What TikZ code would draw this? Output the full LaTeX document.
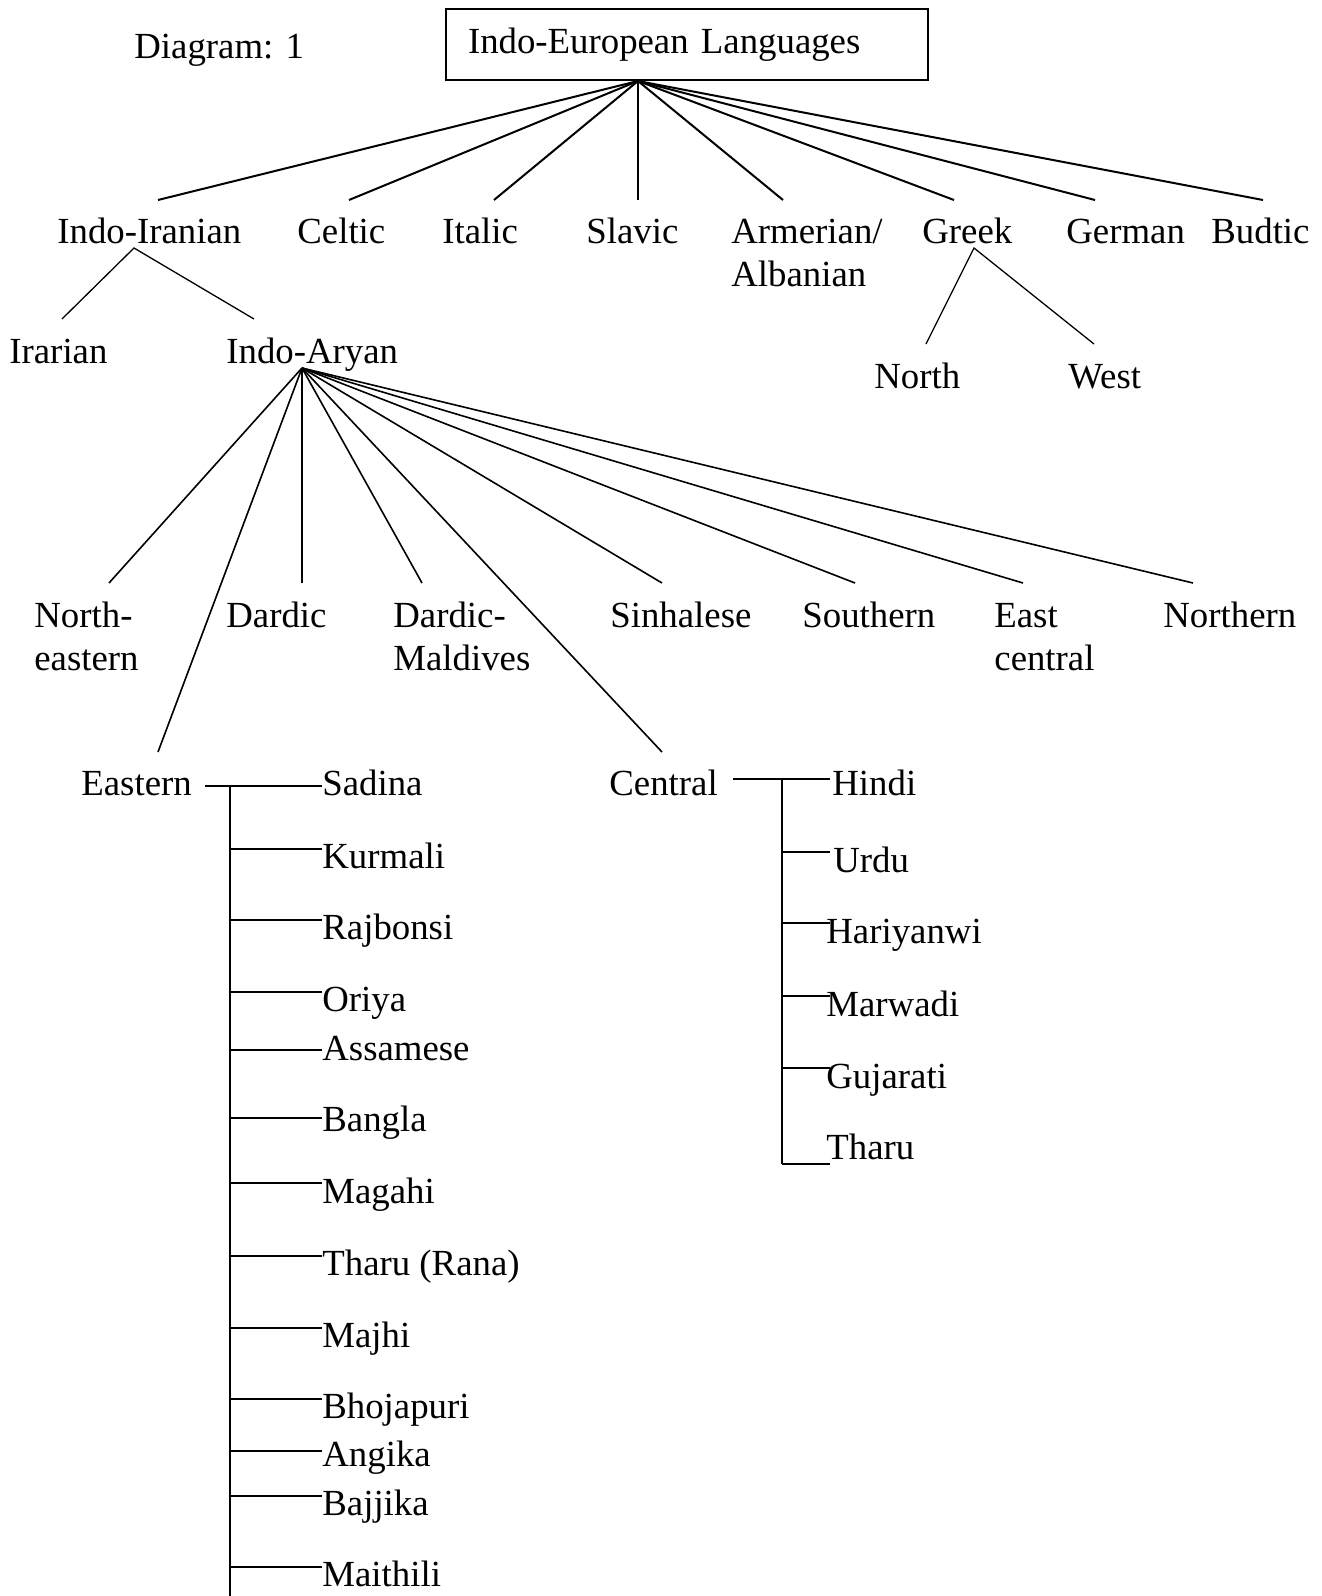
\documentclass[tikz,border=0pt]{standalone}
\usepackage{fontspec}
\setmainfont{Liberation Serif}
\newcommand{\stackpair}[2]{\vtop{\hbox{#1}\hbox{#2}}}
\begin{document}
\begin{tikzpicture}[x=0.5pt,y=-0.5pt,
  lbl/.style={anchor=base west,inner sep=0pt,font=\fontsize{18.4}{21.5}\selectfont},
  rootline/.style={line width=1pt},
  midline/.style={line width=0.8pt},
  thinline/.style={line width=0.65pt},
  bracket/.style={line width=1pt}]
\fill[white] (0,0) rectangle (1322,1596);
\useasboundingbox (0,0) rectangle (1322,1596);

% title and root box
\node[lbl] (title) at (134,58) {Diagram: 1};
\node[draw,line width=1pt,anchor=north west,inner xsep=11pt,inner ysep=0pt,
      text width=219pt,align=left,minimum height=35.5pt,
      font=\fontsize{18.4}{21.5}\selectfont] (ie) at (445,8) {Indo-European Languages};

% first level
\node[lbl] (indoiranian) at (57,243) {Indo-Iranian};
\node[lbl] (celtic) at (297,243) {Celtic};
\node[lbl] (italic) at (442,243) {Italic};
\node[lbl] (slavic) at (586,243) {Slavic};
\node[lbl] (armenian) at (731,243) {\stackpair{Armerian/}{Albanian}};
\node[lbl] (greek) at (922,243) {Greek};
\node[lbl] (german) at (1066,243) {German};
\node[lbl] (budtic) at (1211,243) {Budtic};

\coordinate (ie-hub) at (638,81);
\foreach \n/\x in {indoiranian/158,celtic/349,italic/494,slavic/638,armenian/783,greek/954,german/1095,budtic/1263}
  \coordinate (\n-top) at (\x,200);
\foreach \n in {indoiranian,celtic,italic,slavic,armenian,greek,german,budtic}
  \draw[rootline] (ie-hub) -- (\n-top);

% Indo-Iranian branch
\node[lbl] (iranian) at (9,363) {Irarian};
\node[lbl] (indoaryan) at (226,363) {Indo-Aryan};
\coordinate (ii-hub) at (134,248);
\coordinate (iranian-top) at (62,319);
\coordinate (indoaryan-top) at (254,319);
\draw[thinline] (iranian-top) -- (ii-hub) -- (indoaryan-top);

% Greek branch
\node[lbl] (north) at (874,388) {North};
\node[lbl] (west) at (1068,388) {West};
\coordinate (gr-hub) at (974,248);
\coordinate (north-top) at (926,344);
\coordinate (west-top) at (1094,344);
\draw[thinline] (north-top) -- (gr-hub) -- (west-top);

% Indo-Aryan branch
\node[lbl] (northeastern) at (34,627) {\stackpair{North-}{eastern}};
\node[lbl] (dardic) at (226,627) {Dardic};
\node[lbl] (maldives) at (393,627) {\stackpair{Dardic-}{Maldives}};
\node[lbl] (sinhalese) at (610,627) {Sinhalese};
\node[lbl] (southern) at (802,627) {Southern};
\node[lbl] (eastcentral) at (994,627) {\stackpair{East}{central}};
\node[lbl] (northern) at (1163,627) {Northern};
\node[lbl] (eastern) at (81,795) {Eastern};
\node[lbl] (central) at (609,795) {Central};

\coordinate (ia-hub) at (302,368);
\foreach \n/\x in {northeastern/109,dardic/302,maldives/422,sinhalese/662,southern/855,eastcentral/1023,northern/1193}
  \coordinate (\n-top) at (\x,583);
\coordinate (eastern-top) at (158,752);
\coordinate (central-top) at (662,752);
\foreach \n in {northeastern,dardic,maldives,sinhalese,southern,eastcentral,northern,eastern,central}
  \draw[midline] (ia-hub) -- (\n-top);

% Eastern group
\coordinate (e-start) at (205,786);
\coordinate (e-spine-top) at (230,786);
\coordinate (e-spine-end) at (230,1596);
\draw[bracket] (e-start) -- (322,786);
\draw[bracket] (e-spine-top) -- (e-spine-end);
\foreach \n/\t/\ly/\by in {
  sadina/Sadina/786/795,
  kurmali/Kurmali/849/868,
  rajbonsi/Rajbonsi/920/939,
  oriya/Oriya/992/1011,
  assamese/Assamese/1050/1060,
  bangla/Bangla/1118/1131,
  magahi/Magahi/1183/1203,
  tharurana/Tharu (Rana)/1256/1275,
  majhi/Majhi/1328/1347,
  bhojapuri/Bhojapuri/1399/1418,
  angika/Angika/1451/1466,
  bajjika/Bajjika/1496/1515,
  maithili/Maithili/1567/1586}{
  \node[lbl] (\n) at (322,\by) {\t};
  \coordinate (\n-in) at (322,\ly);
  \coordinate (\n-sp) at (230,\ly);
  \draw[bracket] (\n-sp) -- (\n-in);
}

% Central group
\coordinate (c-start) at (733,779);
\coordinate (c-spine-top) at (782,779);
\coordinate (c-spine-end) at (782,1164);
\draw[bracket] (c-start) -- (830,779);
\draw[bracket] (c-spine-top) -- (c-spine-end);
\foreach \n/\t/\lx/\ly/\by in {
  hindi/Hindi/832/779/795,
  urdu/Urdu/833/852/872,
  hariyanwi/Hariyanwi/826/923/943,
  marwadi/Marwadi/826/996/1016,
  gujarati/Gujarati/826/1068/1088,
  tharu/Tharu/826/1164/1159}{
  \node[lbl] (\n) at (\lx,\by) {\t};
  \coordinate (\n-in) at (830,\ly);
  \coordinate (\n-sp) at (782,\ly);
  \draw[bracket] (\n-sp) -- (\n-in);
}
\end{tikzpicture}
\end{document}
